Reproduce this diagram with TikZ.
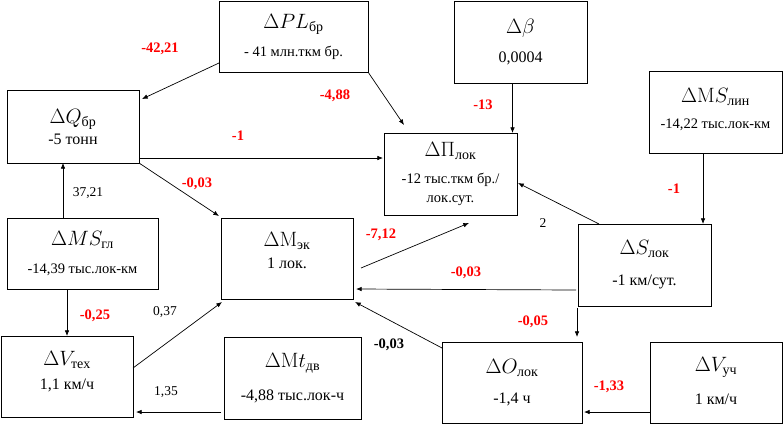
\documentclass[tikz,border=0pt]{standalone}
\usepackage{amsmath}
\usepackage[no-math]{fontspec}
\setmainfont{Liberation Serif}
\usepackage{tikz}
\usetikzlibrary{arrows.meta,calc}

\newcommand{\ttl}[1]{{\fontsize{20}{22}\selectfont$#1$}}
\newcommand{\lowpad}[1]{\rule[-#1]{0pt}{#1}}

\begin{document}
\begin{tikzpicture}[x=1pt,y=-1pt,>=Latex,
  box/.style={draw=black,line width=0.8pt,rectangle,inner sep=0pt,outer sep=0pt,align=center,font=\fontsize{16}{19}\selectfont},
  vsm/.style={font=\fontsize{14.5}{17}\selectfont},
  cf/.style={text=red,font=\bfseries\fontsize{14.5}{17}\selectfont,inner sep=0pt},
  cb/.style={text=black,font=\fontsize{13.5}{16}\selectfont,inner sep=0pt},
  lnk/.style={-{Latex[length=2mm,width=1.6mm]},line width=0.7pt}]
\useasboundingbox[fill=white] (0,0) rectangle (783,424);
% factor boxes
\node[box,vsm,minimum width=149pt,minimum height=71pt] (dpl) at (293.5,36.5) {\ttl{\Delta PL_{\text{бр}}}\\[11pt]- 41 млн.ткм бр.};
\node[box,minimum width=132pt,minimum height=73pt] (dq) at (73,126.5) {\ttl{\Delta Q_{\text{бр}}}\\[2pt]-5 тонн};
\node[box,minimum width=133pt,minimum height=82pt] (db) at (520.5,42) {\ttl{\Delta\beta}\\[10pt]0,0004};
\node[box,vsm,minimum width=133pt,minimum height=82pt] (dp) at (450.5,174) {\ttl{\Delta\Pi_{\text{лок}}}\\[10pt]-12 тыс.ткм бр./\\[2pt]лок.сут.\lowpad{0pt}};
\node[box,vsm,minimum width=133pt,minimum height=82pt] (dml) at (715.5,112) {\ttl{\Delta\mathrm{M}S_{\text{лин}}}\\[9pt]-14,22 тыс.лок-км\lowpad{8pt}};
\node[box,vsm,minimum width=151pt,minimum height=71pt] (dmg) at (82.5,253.5) {\ttl{\Delta MS_{\text{гл}}}\\[11pt]-14,39 тыс.лок-км};
\node[box,minimum width=132pt,minimum height=81pt] (dme) at (287,258.5) {\ttl{\Delta\mathrm{M}_{\text{эк}}}\\[3pt]1 лок.\lowpad{16pt}};
\node[box,minimum width=132pt,minimum height=81pt] (dvt) at (67,376.5) {\ttl{\Delta V_{\text{тех}}}\\[5pt]1,1 км/ч\lowpad{12pt}};
\node[box,minimum width=137pt,minimum height=82pt] (dmt) at (292.5,378) {\ttl{\Delta\mathrm{M}t_{\text{дв}}}\\[14pt]-4,88 тыс.лок-ч};
\node[box,minimum width=133pt,minimum height=82pt] (dsl) at (644.5,265) {\ttl{\Delta S_{\text{лок}}}\\[12pt]-1 км/сут.};
\node[box,minimum width=140pt,minimum height=81pt] (dol) at (512,382.5) {\ttl{\Delta O_{\text{лок}}}\\[11pt]-1,4 ч};
\node[box,minimum width=132pt,minimum height=81pt] (dvu) at (716,382.5) {\ttl{\Delta V_{\text{уч}}}\\[14pt]1 км/ч\lowpad{4pt}};
% links
\draw[lnk] ($(dpl.south west)+(0,-9)$) -- ($(dq.north east)+(3,9)$);
\draw[lnk] (dpl.south east) -- ($(dp.north west)+(20,-8)$);
\draw[lnk] ($(dq.south east)+(0,-5)$) -- ($(dp.north west)+(-1,25)$);
\draw[lnk] (dq.south east) -- ($(dme.north west)+(-2,-2)$);
\draw[lnk] ($(dmg.north west)+(56,0)$) -- ($(dq.south west)+(56,0)$);
\draw[lnk] ($(dmg.south west)+(60,0)$) -- ($(dvt.north west)+(66,0)$);
\draw[lnk] ($(dvt.north east)+(0,32)$) -- ($(dme.south west)+(1,3)$);
\draw[lnk] ($(dmt.south west)+(-3,-7)$) -- ($(dvt.south east)+(3,-5)$);
\draw[lnk] ($(dme.north east)+(8,50)$) -- ($(dp.south west)+(85,8)$);
\draw[lnk] ($(dsl.north west)+(21,0)$) -- ($(dp.north east)+(1,50)$);
\draw[lnk] ($(dsl.south west)+(-2,-16)$) -- ($(dme.south east)+(3,-10)$);
\draw[lnk] ($(dsl.south west)+(-1,2)$) -- ($(dol.north east)+(-5,-5)$);
\draw[lnk] ($(dml.south west)+(54,0)$) -- ($(dsl.north east)+(-8,0)$);
\draw[lnk] ($(db.south)+(-8,0)$) -- ($(dp.north east)+(-4.5,0)$);
\draw[lnk] ($(dol.north west)+(0,6)$) -- ($(dme.south east)+(2,3)$);
\draw[lnk] ($(dvu.south west)+(0,-11)$) -- ($(dol.south east)+(2,-11)$);
% coefficients
\node[cf] (k1) at (160,49) {-42,21};
\node[cf] (k2) at (335,96) {-4,88};
\node[cf] (k3) at (238,136) {-1};
\node[cf] (k4) at (197,184) {-0,03};
\node[cb] (k5) at (88,193) {37,21};
\node[cf] (k6) at (483,105) {-13};
\node[cf] (k7) at (674,189) {-1};
\node[cb] (k8) at (543,223) {2};
\node[cf] (k9) at (381,235) {-7,12};
\node[cf] (k10) at (466,273) {-0,03};
\node[cf] (k11) at (533,322) {-0,05};
\node[cf,text=black] (k12) at (389,345) {-0,03};
\node[cf] (k13) at (609,387) {-1,33};
\node[cf] (k14) at (95,316) {-0,25};
\node[cb] (k15) at (165,312) {0,37};
\node[cb] (k16) at (166,392) {1,35};
\end{tikzpicture}
\end{document}
